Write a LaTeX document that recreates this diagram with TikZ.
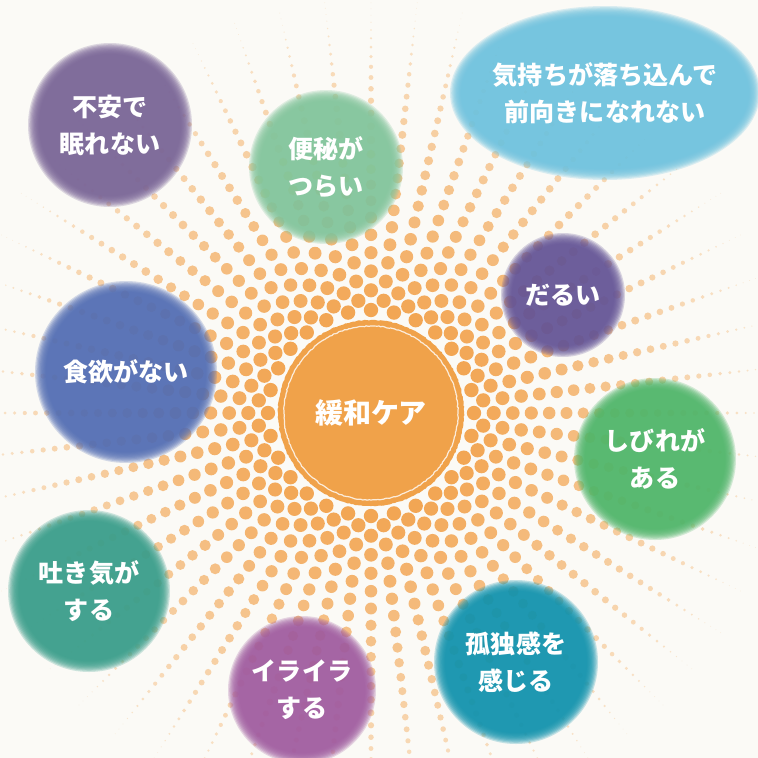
\documentclass[tikz,border=0pt]{standalone}
\usepackage{fontspec}
\newfontfamily\jpfont{Noto Sans CJK JP}
\usetikzlibrary{decorations.pathmorphing}
\definecolor{bgc}{HTML}{FBFAF6}
\definecolor{dotc}{HTML}{F2A552}
\definecolor{corec}{HTML}{F0A24A}
\definecolor{fuanc}{HTML}{7A6597}
\definecolor{benpic}{HTML}{82C59C}
\definecolor{kimochic}{HTML}{6FC3DF}
\definecolor{daruic}{HTML}{655597}
\definecolor{shibirec}{HTML}{50B66A}
\definecolor{shokuc}{HTML}{536EB4}
\definecolor{hakic}{HTML}{3A9E8B}
\definecolor{irairac}{HTML}{A15CA0}
\definecolor{kodokuc}{HTML}{1193AE}
\tikzset{
  symtext/.style={text=white, align=center, font=\jpfont\bfseries\fontsize{18.8}{27.8}\selectfont},
  coretext/.style={text=white, font=\jpfont\bfseries\fontsize{21}{28}\selectfont},
  rough/.style={decorate, decoration={random steps, segment length=1.5pt, amplitude=.35pt}}
}
% soft blob with its label: name, x, y, x radius, y radius, colour, text
\newcommand{\symptom}[7]{%
  \foreach \k in {0,...,9}
    \fill[#6, opacity=.24] (#2,#3) ellipse [x radius={#4+5-1.2*\k}, y radius={#5+5-1.2*\k}];
  \node[symtext] (#1) at (#2,#3) {#7};
}
\begin{document}
\begin{tikzpicture}[x=0.026385cm, y=-0.026385cm]
\useasboundingbox (0,0) rectangle (758,758);
\clip (0,0) rectangle (758,758);
\fill[bgc] (0,0) rectangle (758,758);
% rays of dots
\foreach \ang in {0,...,55}{
  \foreach \n in {0,...,24}{
    \pgfmathsetmacro\mstep{\n+0.5*mod(\ang,2)}
    \pgfmathsetmacro\rad{103+20*\mstep-0.3*\mstep*\mstep}
    \pgfmathsetmacro\frac{min((\rad-100)/310,1)}
    \pgfmathsetmacro\dotr{max(7.2*(1-\frac*sqrt(\frac)),0.4)}
    \pgfmathtruncatemacro\mix{max(100-80*\frac,15)}
    \pgfmathsetmacro\dir{\ang/56*360}
    \fill[dotc!\mix!bgc] (371,413) ++(\dir:\rad) circle (\dotr);
  }
}
% centre
\fill[corec, rough] (371,413) circle (93);
\draw[white, opacity=.8, line width=.9pt, rough] (371,413) circle (87);
\node[coretext] (kanwa) at (371,413) {緩和ケア};
% symptoms
\symptom{fuan}{110}{125}{77}{77}{fuanc}{不安で\\眠れない}
\symptom{benpi}{326}{167}{72}{72}{benpic}{便秘が\\つらい}
\symptom{kimochi}{605}{93}{150}{82}{kimochic}{気持ちが落ち込んで\\前向きになれない}
\symptom{darui}{563}{295}{57}{57}{daruic}{だるい}
\symptom{shibire}{655}{459}{76}{76}{shibirec}{しびれが\\ある}
\symptom{shoku}{126}{372}{86}{86}{shokuc}{食欲がない}
\symptom{haki}{89}{591}{76}{76}{hakic}{吐き気が\\する}
\symptom{iraira}{302}{690}{69}{69}{irairac}{イライラ\\する}
\symptom{kodoku}{516}{662}{77}{77}{kodokuc}{孤独感を\\感じる}
\end{tikzpicture}
\end{document}
